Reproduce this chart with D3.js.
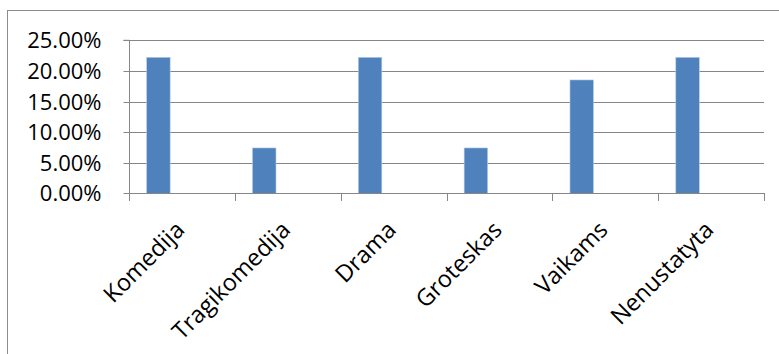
<!DOCTYPE html>
<html>
<head>
<meta charset="utf-8">
<script src="https://cdn.jsdelivr.net/npm/d3@7"></script>
<style>
  html, body { margin: 0; padding: 0; background: #fff; }
  svg { display: block; }
  text { font-family: "Open Sans", "Noto Sans", sans-serif; fill: #000; }
</style>
</head>
<body>
<svg id="chart" width="779" height="354"></svg>
<script>
// Genre shares
const categories = ["Komedija", "Tragikomedija", "Drama", "Groteskas", "Vaikams", "Nenustatyta"];
const values = [0.2222, 0.0741, 0.2222, 0.0741, 0.1852, 0.2222];
const yTicks = [0, 0.05, 0.10, 0.15, 0.20, 0.25];
// three series slots per category; only the first holds data
const seriesSlots = [0, 1, 2];

const svg = d3.select("#chart");
const W = 779, H = 354;
const plot = { left: 129, right: 764, top: 40.3, bottom: 193.3 };

// outer chart frame
svg.append("rect")
  .attr("x", 7.5).attr("y", 10.5)
  .attr("width", W + 10).attr("height", H + 10)
  .attr("fill", "none").attr("stroke", "#8c8c8c").attr("stroke-width", 1);

const x = d3.scaleBand().domain(categories).range([plot.left, plot.right]).paddingInner(0).paddingOuter(0);
const xs = d3.scaleBand().domain(seriesSlots).range([0, x.bandwidth()]).paddingInner(0).paddingOuter(0.75);
const y = d3.scaleLinear().domain([0, 0.25]).range([plot.bottom, plot.top]);

const gridColor = "#868686";

// horizontal gridlines
svg.append("g").selectAll("line").data(yTicks.filter(d => d > 0)).join("line")
  .attr("x1", plot.left).attr("x2", plot.right)
  .attr("y1", d => Math.round(y(d)) + 0.5).attr("y2", d => Math.round(y(d)) + 0.5)
  .attr("stroke", gridColor).attr("stroke-width", 1);

// bars
svg.append("g").selectAll("rect").data(categories).join("rect")
  .attr("x", (c) => x(c) + xs(0))
  .attr("width", xs.bandwidth())
  .attr("y", (c, i) => y(values[i]))
  .attr("height", (c, i) => y(0) - y(values[i]))
  .attr("fill", "#4f81bd")
  .attr("stroke", "#b9cde5").attr("stroke-width", 0.6);

// y axis
const yAxis = d3.axisLeft(y).tickValues(yTicks).tickFormat(d3.format(".2%")).tickSize(6).tickPadding(22);
const gy = svg.append("g").attr("transform", `translate(${plot.left + 0.5},0)`).call(yAxis);
gy.select(".domain").attr("stroke", gridColor).attr("d", `M-6,${plot.top}H0V${plot.bottom}`);
gy.selectAll(".tick").attr("transform", d => `translate(0,${Math.round(y(d)) + 0.5})`);
gy.selectAll(".tick line").attr("stroke", gridColor);
gy.selectAll(".tick text").attr("font-size", 22).attr("font-family", "'Open Sans', sans-serif").attr("fill", "#000").attr("dy", "0.36em");

// x axis line and category boundary ticks
const boundaries = categories.map(c => x(c)).concat([plot.right]);
const gx = svg.append("g");
gx.append("line")
  .attr("x1", plot.left).attr("x2", plot.right)
  .attr("y1", Math.round(y(0)) + 0.5).attr("y2", Math.round(y(0)) + 0.5)
  .attr("stroke", gridColor);
gx.selectAll("line.tk").data(boundaries).join("line").attr("class", "tk")
  .attr("x1", d => Math.round(d) + 0.5).attr("x2", d => Math.round(d) + 0.5)
  .attr("y1", Math.round(y(0))).attr("y2", Math.round(y(0)) + 8)
  .attr("stroke", gridColor);

// rotated category labels
gx.selectAll("text").data(categories).join("text")
  .attr("text-anchor", "end")
  .attr("font-size", 23.5)
  .attr("transform", c => `translate(${x(c) + x.bandwidth() / 2 + 4},${y(0) + 38}) rotate(-45)`)
  .text(c => c);
</script>
</body>
</html>
